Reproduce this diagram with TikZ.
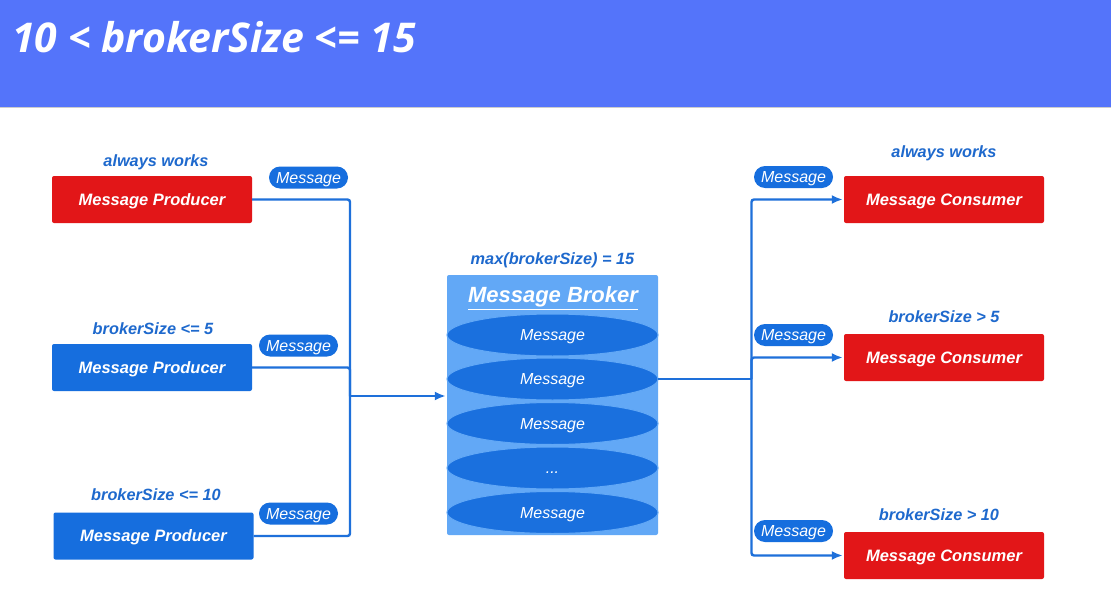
\documentclass[tikz,border=0pt]{standalone}
\usepackage{fontspec}
\setmainfont{Liberation Sans}
\newfontfamily\titlefont{Open Sans}
\usetikzlibrary{arrows.meta,shapes.geometric}
\definecolor{hdr}{RGB}{84,116,250}
\definecolor{pred}{RGB}{226,22,24}
\definecolor{pblue}{RGB}{22,110,222}
\definecolor{lblue}{RGB}{30,105,205}
\definecolor{brk}{RGB}{98,168,246}
\definecolor{ell}{RGB}{26,112,222}
\definecolor{wire}{RGB}{30,112,218}
\tikzset{
  x=1pt,y=-1pt,
  box/.style={rectangle,rounded corners=2pt,minimum width=200pt,minimum height=47pt,inner sep=0pt,
    text=white,font=\fontsize{16.5}{18}\selectfont\bfseries\itshape,text height=11.8pt,text depth=0pt},
  prodred/.style={box,fill=pred},
  prodblue/.style={box,fill=pblue},
  lbl/.style={inner sep=0pt,text=lblue,font=\fontsize{16.3}{18}\selectfont\bfseries\itshape,text height=11.7pt,text depth=0pt},
  pill/.style={rectangle,rounded corners=11pt,fill=pblue,minimum width=79pt,minimum height=22pt,inner sep=0pt,
    text=white,font=\fontsize{16}{18}\selectfont\itshape,text height=11.5pt,text depth=0pt},
  msg/.style={ellipse,fill=ell,draw=brk,line width=1pt,minimum width=211pt,minimum height=42pt,inner sep=0pt,
    text=white,font=\fontsize{16}{18}\selectfont\itshape,text height=11.5pt,text depth=0pt},
  wireline/.style={draw=wire,line width=2.4pt,rounded corners=2.5pt},
  arr/.style={wireline,-{Latex[length=11pt,width=9pt]},shorten >=1pt},
}
\begin{document}
\begin{tikzpicture}
\useasboundingbox (0,0) rectangle (1111,602);
\fill[white] (0,0) rectangle (1111,602);
\fill[hdr] (0,0) rectangle (1111,107);
\draw[gray!40,line width=1pt] (0,107.5) -- (1111,107.5);
\node[anchor=base west,inner sep=0pt,text=white,font=\titlefont\fontsize{41}{44}\selectfont\bfseries\itshape] (title) at (12,53) {10 < brokerSize <= 15};

% producers
\node[prodred] (p1) at (152,199.5) {Message Producer};
\node[prodblue] (p2) at (152,367.5) {Message Producer};
\node[prodblue] (p3) at (153.5,536) {Message Producer};
\node[lbl] (lp1) at (156,161) {always works};
\node[lbl] (lp2) at (153,328.5) {brokerSize <= 5};
\node[lbl] (lp3) at (156,494.5) {brokerSize <= 10};

% broker
\node[rectangle,rounded corners=2pt,fill=brk,minimum width=211pt,minimum height=260pt,inner sep=0pt] (broker) at (552.5,405) {};
\node[lbl] (lbroker) at (552.5,259) {max(brokerSize) = 15};
\node[inner sep=0pt,text=white,font=\fontsize{22}{24}\selectfont\bfseries\itshape,text height=15.8pt,text depth=0pt] (btitle) at (553,295) {\underline{Message Broker}};
\node[msg] (m5) at (552.5,512.5) {Message};
\node[msg] (m4) at (552.5,468) {...};
\node[msg] (m3) at (552.5,423.5) {Message};
\node[msg] (m2) at (552.5,379) {Message};
\node[msg] (m1) at (552.5,335) {Message};

% consumers
\node[prodred] (c1) at (944,199.5) {Message Consumer};
\node[prodred] (c2) at (944,357.5) {Message Consumer};
\node[prodred] (c3) at (944,555.5) {Message Consumer};
\node[lbl] (lc1) at (944,151.5) {always works};
\node[lbl] (lc2) at (944,316.5) {brokerSize > 5};
\node[lbl] (lc3) at (939,514.5) {brokerSize > 10};

% connectors
\coordinate (j) at (350,396);
\coordinate (k) at (751.5,379);
\draw[wireline] (p1.east) -| (j);
\draw[wireline] (p2.east) -| (j);
\draw[wireline] (p3.east) -| (j);
\draw[arr] (j) -- (j -| broker.west);
\draw[wireline] (k -| broker.east) -- (k);
\draw[arr] (k) |- (c1.west);
\draw[arr] (k) |- (c2.west);
\draw[arr] (k) |- (c3.west);

% message pills
\node[pill] (mp1) at (308.5,177.5) {Message};
\node[pill] (mp2) at (298.5,345.5) {Message};
\node[pill] (mp3) at (298.5,513.5) {Message};
\node[pill] (mc1) at (793.5,177) {Message};
\node[pill] (mc2) at (793.5,335) {Message};
\node[pill] (mc3) at (793.5,531) {Message};
\end{tikzpicture}
\end{document}
